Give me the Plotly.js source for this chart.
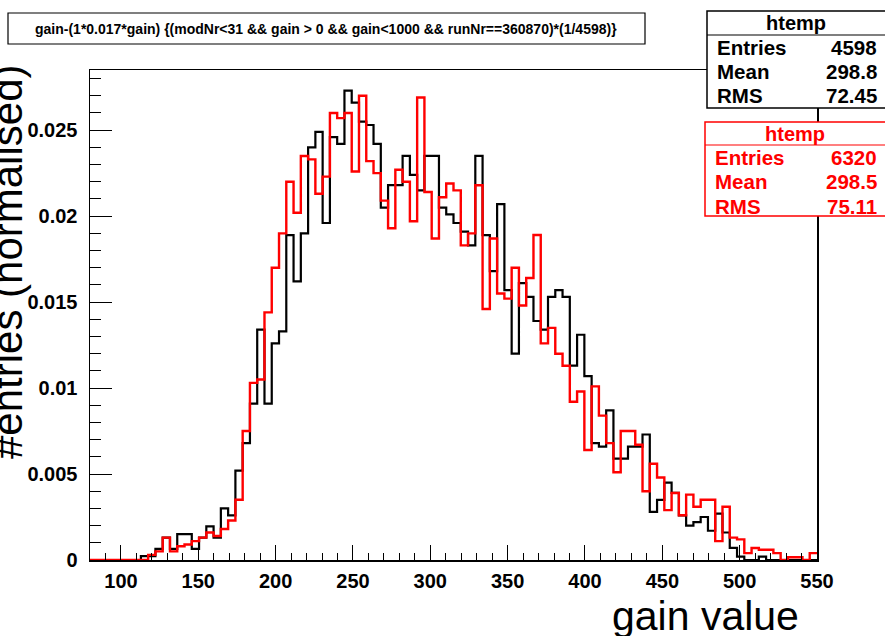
<!DOCTYPE html>
<html>
<head>
<meta charset="utf-8">
<script src="https://cdn.plot.ly/plotly-3.0.1.min.js"></script>
<style>html,body{margin:0;padding:0;background:#fff;}#chart{width:885px;height:636px;}</style>
</head>
<body>
<div id="chart"></div>
<script>
// Histogram definition (100 bins, 80..550)
const binMin = 80;
const binMax = 550;
const nBins = 100;

// normalised bin contents (black: runNr==360870, red: reference)
const blackValues = [
  0,0,0,0,0,0,0,0.00022,0.00022,0.00065,
  0.0013,0.00065,0.0015,0.0015,0.00065,0.0013,0.00196,0.0013,0.0030,0.0026,
  0.0052,0.0068,0.0091,0.0134,0.0091,0.0126,0.0133,0.0189,0.0162,0.0190,
  0.0240,0.0249,0.0196,0.0246,0.0242,0.0273,0.0266,0.0255,0.0253,0.0242,
  0.0205,0.0218,0.0218,0.0235,0.0224,0.0215,0.0235,0.0235,0.0205,0.0201,
  0.0196,0.0191,0.0183,0.0235,0.0189,0.0168,0.0207,0.0157,0.0120,0.0161,
  0.0153,0.0139,0.0134,0.0153,0.0157,0.0153,0.0113,0.0131,0.0107,0.0068,
  0.0066,0.0087,0.0059,0.0059,0.0066,0.0066,0.0073,0.0028,0.0035,0.0045,
  0.0039,0.0026,0.0020,0.0022,0.0025,0.0017,0.0027,0.0016,0.0007,0.0002,
  0,0,0.0002,0,0,0,0,0,0,0
];
const redValues = [
  0,0,0,0,0,0,0,0,0.0003,0.0005,
  0.0013,0.0005,0.0008,0.0009,0.0011,0.0013,0.0016,0.0014,0.0018,0.0023,
  0.0035,0.0075,0.0103,0.0105,0.0144,0.0170,0.0190,0.0220,0.0202,0.0235,
  0.0233,0.0213,0.0223,0.0260,0.0257,0.0260,0.0226,0.0270,0.0232,0.0225,
  0.0209,0.0193,0.0227,0.0220,0.0197,0.0269,0.0214,0.0187,0.0211,0.0219,
  0.0215,0.0183,0.0190,0.0218,0.0146,0.0187,0.0155,0.0152,0.0170,0.0148,
  0.0164,0.0189,0.0126,0.0135,0.0120,0.0113,0.0092,0.0098,0.0064,0.0101,
  0.0084,0.0068,0.0051,0.0075,0.0075,0.0067,0.0040,0.0056,0.0048,0.0029,
  0.0039,0.0026,0.0038,0.0031,0.0035,0.0035,0.0011,0.0031,0.0013,0.0012,
  0.0004,0.0007,0.0006,0.0006,0.0004,0,0.00016,0.00016,0,0.0004
];

const xTickVals = [100,150,200,250,300,350,400,450,500,550];
const xTickText = ["100","150","200","250","300","350","400","450","500","550"];
const yTickVals = [0,0.005,0.01,0.015,0.02,0.025];
const yTickText = ["0","0.005","0.01","0.015","0.02","0.025"];

const titleText = "gain-(1*0.017*gain) {(modNr&lt;31 &amp;&amp; gain &gt; 0 &amp;&amp; gain&lt;1000 &amp;&amp; runNr==360870)*(1/4598)}";
const statsNames = ["Entries","Mean","RMS"];
const blackStats = ["4598","298.8","72.45"];
const redStats = ["6320","298.5","75.11"];

function stepTrace(vals, color, width) {
  const w = (binMax - binMin) / nBins;
  const xs = [], ys = [];
  for (let i = 0; i < vals.length; i++) { xs.push(binMin + i * w); ys.push(vals[i]); }
  xs.push(binMax); ys.push(vals[vals.length - 1]);
  return {x: xs, y: ys, type: 'scatter', mode: 'lines',
          line: {shape: 'hv', color: color, width: width}, hoverinfo: 'skip', showlegend: false};
}

// plot-area pixel geometry
const L = 90, R = 817, T = 70, B = 560;
const px = x => (x - L) / (R - L);
const py = y => (B - y) / (B - T);

const font = 'Liberation Sans, Arial, Helvetica, sans-serif';
const shapes = [], annotations = [];

// title box
shapes.push({type:'rect', xref:'paper', yref:'paper', x0:px(8), x1:px(645), y0:py(44), y1:py(13),
  line:{color:'black', width:1.2}, fillcolor:'white', layer:'above'});
annotations.push({xref:'paper', yref:'paper', x:px(326), y:py(29), xanchor:'center', yanchor:'middle',
  text:titleText, showarrow:false, font:{family:font, size:14, color:'black', weight:'bold'}});

function statsBox(x0, y0, y1, sep, color, header, vals) {
  shapes.push({type:'rect', xref:'paper', yref:'paper', x0:px(x0), x1:px(890), y0:py(y1), y1:py(y0),
    line:{color:color, width:1.5}, fillcolor:'white', layer:'above'});
  shapes.push({type:'line', xref:'paper', yref:'paper', x0:px(x0), x1:px(890), y0:py(sep), y1:py(sep),
    line:{color:color, width:1.2}, layer:'above'});
  annotations.push({xref:'paper', yref:'paper', x:px((x0+885)/2), y:py((y0+sep)/2), xanchor:'center', yanchor:'middle',
    text:header, showarrow:false, font:{family:font, size:20, color:color, weight:'bold'}});
  for (let i = 0; i < statsNames.length; i++) {
    const yy = sep + 12 + i * 24.5;
    annotations.push({xref:'paper', yref:'paper', x:px(x0+8), y:py(yy), xanchor:'left', yanchor:'middle',
      text:statsNames[i], showarrow:false, font:{family:font, size:20.5, color:color, weight:'bold'}});
    annotations.push({xref:'paper', yref:'paper', x:px(879), y:py(yy), xanchor:'right', yanchor:'middle',
      text:vals[i], showarrow:false, font:{family:font, size:20.5, color:color, weight:'bold'}});
  }
}
statsBox(707, 11, 108, 35, 'black', 'htemp', blackStats);
statsBox(705, 122, 216, 145, 'red', 'htemp', redStats);

// axis titles
annotations.push({xref:'paper', yref:'paper', x:px(7), y:py(262), xanchor:'center', yanchor:'middle',
  text:'#entries (normalised)', textangle:-90, showarrow:false, font:{family:font, size:42, color:'black'}});
annotations.push({xref:'paper', yref:'paper', x:px(801), y:py(616), xanchor:'right', yanchor:'middle',
  text:'gain value', showarrow:false, font:{family:font, size:41, color:'black'}});

const layout = {
  width: 885, height: 636,
  margin: {l: L, r: 885 - R, t: T, b: 636 - B, pad: 0},
  paper_bgcolor: 'white', plot_bgcolor: 'white',
  showlegend: false,
  xaxis: {range:[binMin, binMax], tickvals:xTickVals, ticktext:xTickText, ticks:'inside', ticklen:15,
    tickwidth:1, tickcolor:'black', showgrid:false, zeroline:false, showline:true, linecolor:'black', linewidth:1.5,
    mirror:true, ticklabelstandoff:2,
    minor:{dtick:10, tick0:0, ticks:'inside', ticklen:7.5, tickcolor:'black', tickwidth:1, showgrid:false},
    tickfont:{family:font, size:20, color:'black', weight:'bold'}},
  yaxis: {range:[0, 0.0285], tickvals:yTickVals, ticktext:yTickText, ticks:'inside', ticklen:22,
    tickwidth:1, tickcolor:'black', showgrid:false, zeroline:false, showline:true, linecolor:'black', linewidth:1.5,
    mirror:true, ticklabelstandoff:7,
    minor:{dtick:0.001, tick0:0, ticks:'inside', ticklen:11, tickcolor:'black', tickwidth:1, showgrid:false},
    tickfont:{family:font, size:20, color:'black', weight:'bold'}},
  shapes: shapes,
  annotations: annotations
};

Plotly.newPlot('chart', [stepTrace(blackValues, 'black', 2.2), stepTrace(redValues, '#ff0000', 2.4)], layout,
  {displayModeBar:false, staticPlot:true});
</script>
</body>
</html>
